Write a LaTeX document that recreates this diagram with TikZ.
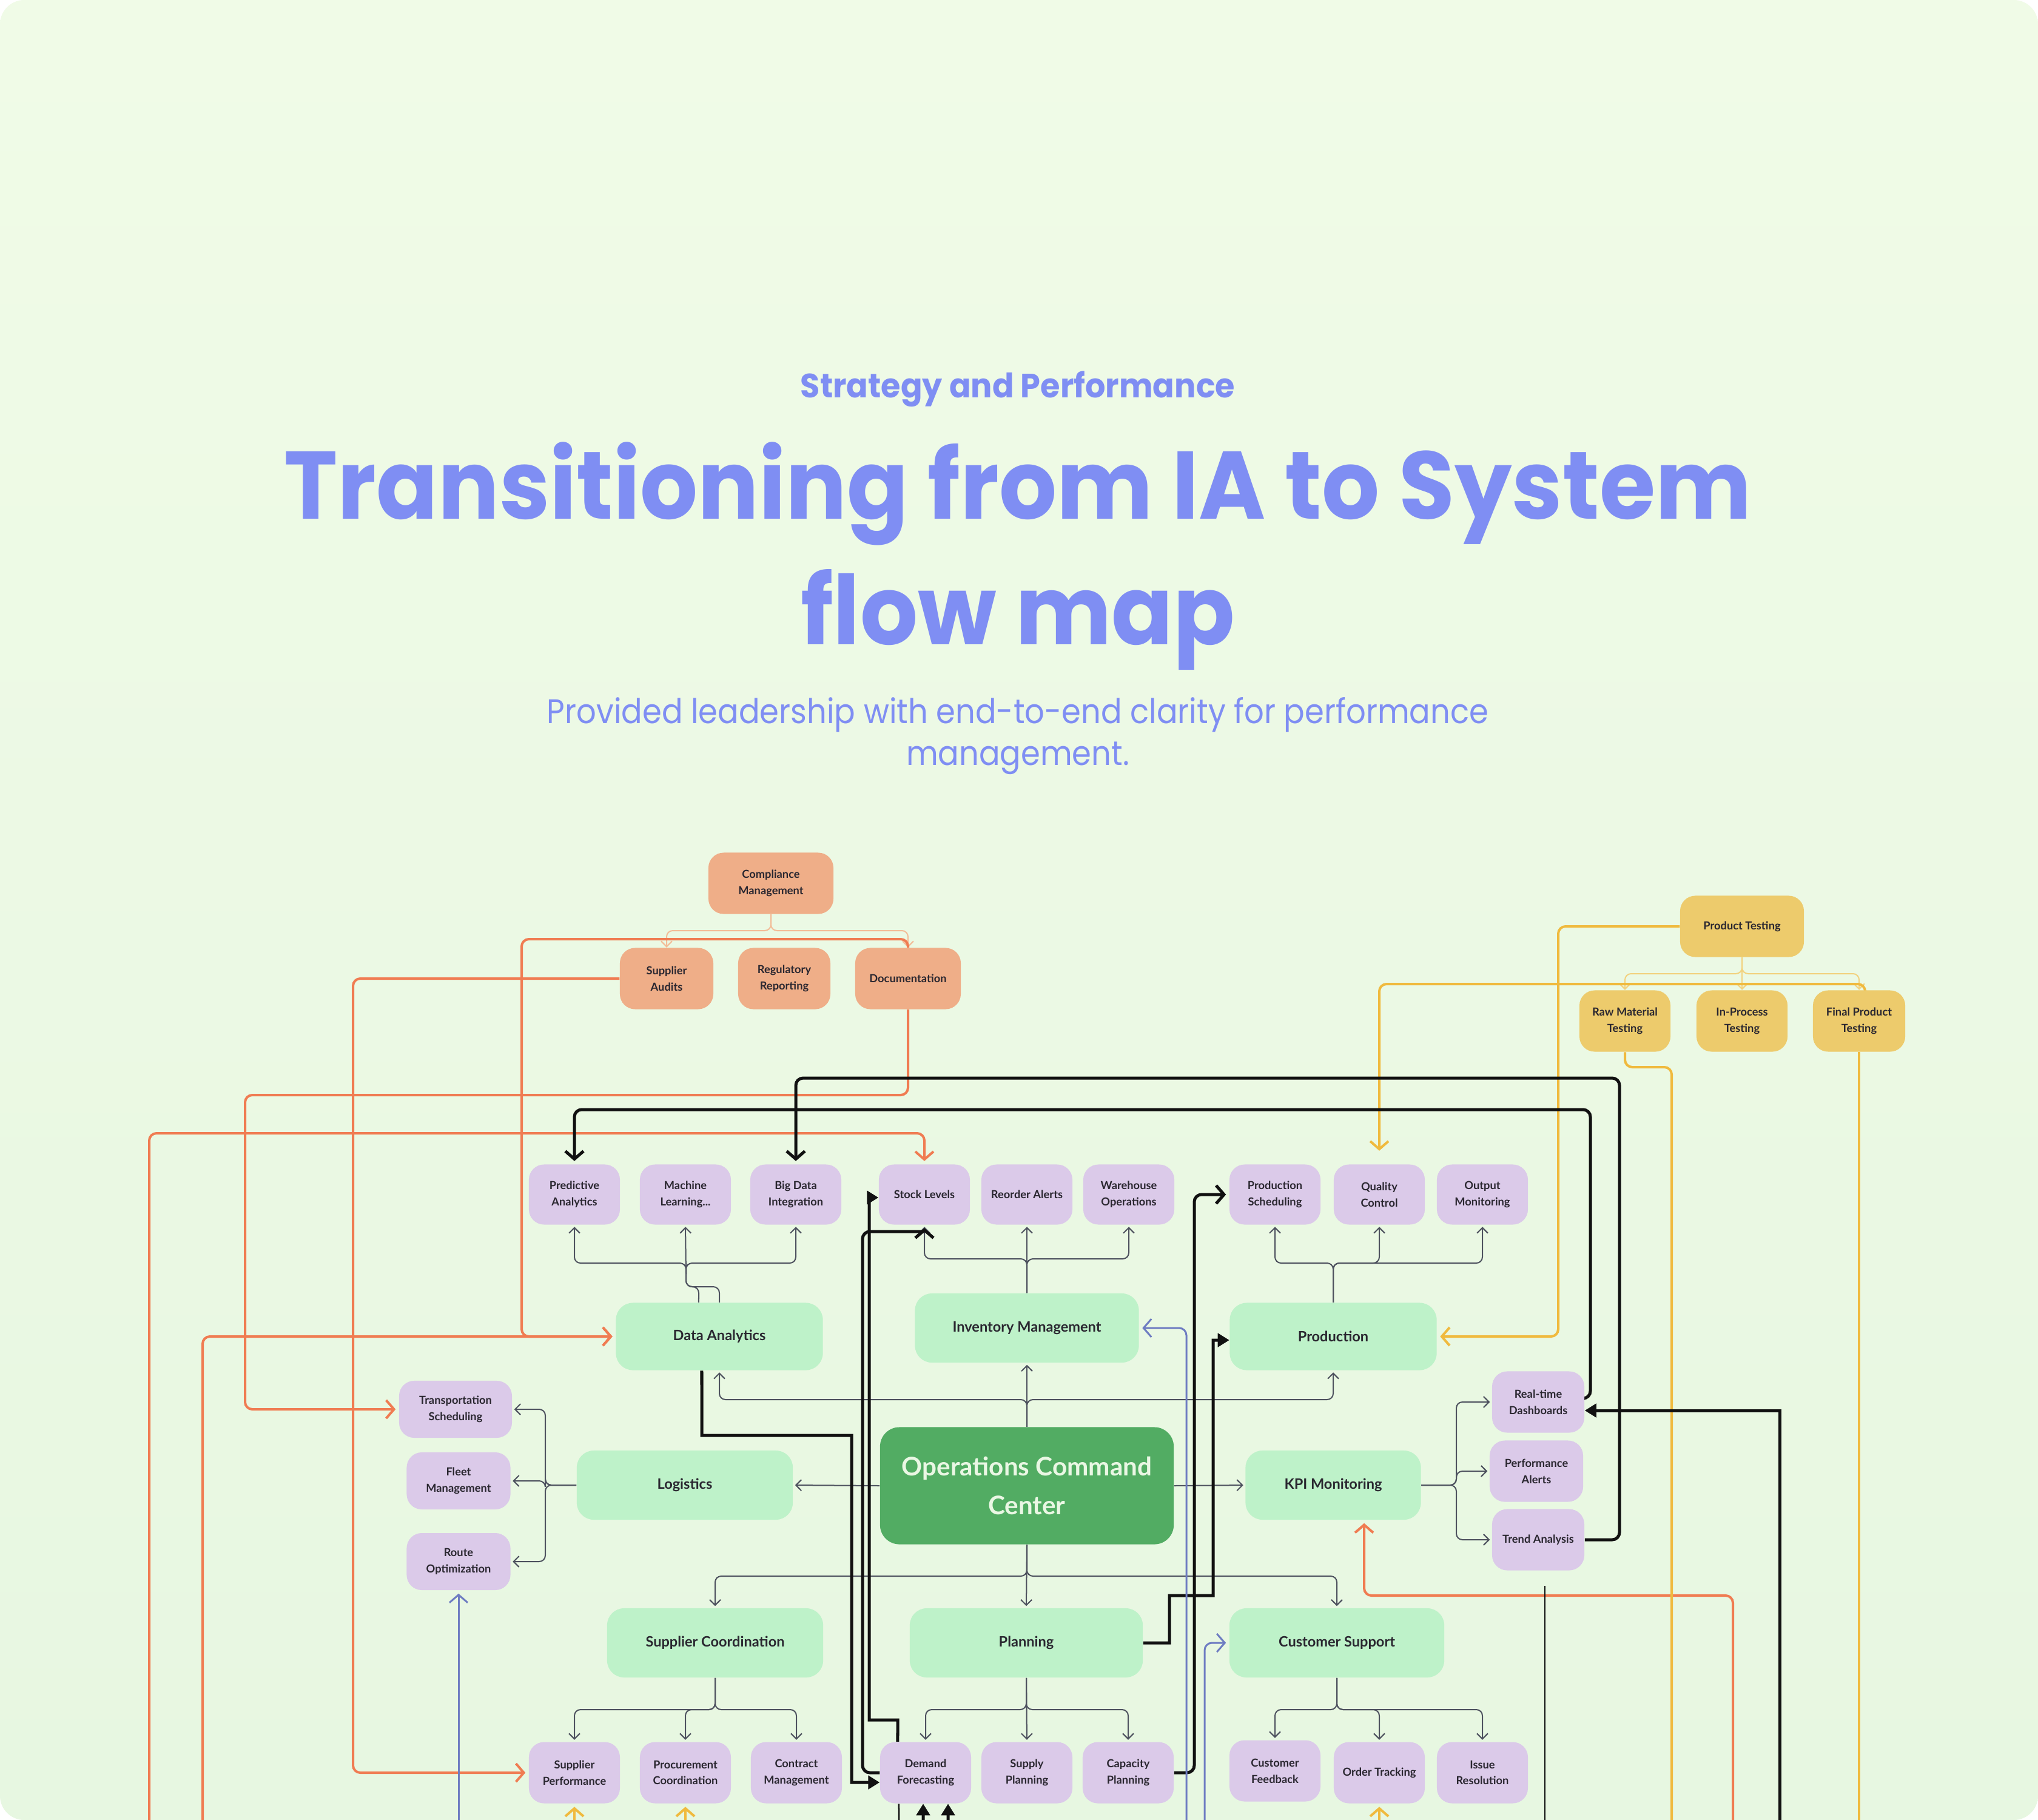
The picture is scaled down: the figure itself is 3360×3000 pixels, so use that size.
\documentclass[tikz,border=0pt]{standalone}
\usepackage{fontspec}
\usetikzlibrary{arrows.meta}
\newfontfamily\titlefont[FakeStretch=0.945]{Poppins}
\newfontfamily\subfont[FakeStretch=0.91]{Poppins}
\newfontfamily\nodefont{Lato}
\definecolor{titleblue}{HTML}{7F8EF3}
\definecolor{nodetext}{HTML}{2A2730}
\definecolor{purp}{HTML}{DBCAE9}
\definecolor{lgreen}{HTML}{BEF2C9}
\definecolor{dgreen}{HTML}{52AC63}
\definecolor{occtext}{HTML}{EAF7E4}
\definecolor{orn}{HTML}{EFAE88}
\definecolor{ornline}{HTML}{F07C52}
\definecolor{ornlight}{HTML}{F3BC97}
\definecolor{yel}{HTML}{EDCB6C}
\definecolor{yelline}{HTML}{F0BA3E}
\definecolor{yellight}{HTML}{F2D27E}
\definecolor{glinec}{HTML}{4D515E}
\definecolor{blk}{HTML}{111111}
\definecolor{bluel}{HTML}{6E7CC2}
\definecolor{bgtop}{HTML}{F0FBE7}
\definecolor{bgbot}{HTML}{E7F7E1}
\pgfdeclarelayer{back}
\pgfdeclarelayer{lines}
\pgfsetlayers{back,lines,main}
\tikzset{
  box/.style={rounded corners=0.25cm, inner sep=0pt, align=center, text=nodetext,
    font=\nodefont\bfseries\fontsize{5.2}{7.6}\selectfont},
  pbox/.style={box, fill=purp, minimum width=1.5cm, minimum height=0.99cm},
  obox/.style={box, fill=orn, minimum height=1.01cm},
  ybox/.style={box, fill=yel, minimum height=1.01cm},
  gbox/.style={box, fill=lgreen, minimum height=1.13cm, rounded corners=0.28cm,
    font=\nodefont\bfseries\fontsize{6.7}{8}\selectfont},
  gline/.style={draw=glinec, line width=0.02cm, rounded corners=0.1cm,
    -{Straight Barb[length=0.09cm,width=0.18cm]}, shorten >=0.03cm},
  gplain/.style={draw=glinec, line width=0.02cm, rounded corners=0.1cm},
  otree/.style={draw=ornlight, line width=0.02cm, rounded corners=0.1cm,
    -{Straight Barb[length=0.09cm,width=0.18cm]}},
  ytree/.style={draw=yellight, line width=0.02cm, rounded corners=0.1cm,
    -{Straight Barb[length=0.09cm,width=0.18cm]}},
  oline/.style={draw=ornline, line width=0.04cm, rounded corners=0.12cm,
    -{Straight Barb[length=0.13cm,width=0.3cm]}, shorten >=0.05cm},
  yline/.style={draw=yelline, line width=0.04cm, rounded corners=0.12cm,
    -{Straight Barb[length=0.13cm,width=0.3cm]}, shorten >=0.05cm},
  ylplain/.style={draw=yelline, line width=0.04cm, rounded corners=0.12cm},
  bopen/.style={draw=blk, line width=0.05cm, rounded corners=0.12cm,
    -{Straight Barb[length=0.13cm,width=0.3cm]}, shorten >=0.05cm},
  bfill/.style={draw=blk, line width=0.05cm,
    -{Triangle[length=0.19cm,width=0.22cm]}},
  bline/.style={draw=bluel, line width=0.03cm, rounded corners=0.12cm,
    -{Straight Barb[length=0.13cm,width=0.3cm]}, shorten >=0.05cm},
}
\begin{document}
\begin{tikzpicture}[x=0.01cm,y=-0.01cm]
\useasboundingbox (0,0) rectangle (3360,3000);
\begin{pgfonlayer}{back}
\fill[white] (0,0) rectangle (3360,3000);
\shade[top color=bgtop, bottom color=bgbot, rounded corners=0.4cm] (0,0) rectangle (3360,3000);
\end{pgfonlayer}

% titles
\node[anchor=base, inner sep=0, text=titleblue, font=\titlefont\bfseries\fontsize{15.8}{16}\selectfont] (kicker) at (1678,655) {Strategy and Performance};
\node[anchor=base, inner sep=0, text=titleblue, font=\titlefont\bfseries\fontsize{45}{45}\selectfont] (t1) at (1678,855) {Transitioning from IA to System};
\node[anchor=base, inner sep=0, text=titleblue, font=\titlefont\bfseries\fontsize{45}{45}\selectfont] (t2) at (1678,1062) {flow map};
\node[anchor=base, inner sep=0, text=titleblue, font=\subfont\fontsize{16}{16}\selectfont] (s1) at (1678,1192) {Provided leadership with end-to-end clarity for performance};
\node[anchor=base, inner sep=0, text=titleblue, font=\subfont\fontsize{16}{16}\selectfont] (s2) at (1678,1261) {management.};

% compliance
\node[obox, minimum width=2.06cm] (cm) at (1271,1456) {Compliance\\Management};
\node[obox, minimum width=1.54cm] (sa) at (1099,1613) {Supplier\\Audits};
\node[obox, minimum width=1.52cm] (rr) at (1293,1613) {Regulatory\\Reporting};
\node[obox, minimum width=1.74cm] (doc) at (1497,1613) {Documentation};
% product testing
\node[ybox, minimum width=2.04cm] (pt) at (2872,1527) {Product Testing};
\node[ybox, minimum width=1.5cm] (rmt) at (2679,1683) {Raw Material\\Testing};
\node[ybox, minimum width=1.5cm] (ipt) at (2872,1683) {In-Process\\Testing};
\node[ybox, minimum width=1.52cm] (fpt) at (3065,1683) {Final Product\\Testing};

% purple row 1
\node[pbox] (pa) at (947,1969) {Predictive\\Analytics};
\node[pbox] (ml) at (1130,1969) {Machine\\Learning...};
\node[pbox] (bdi) at (1312,1969) {Big Data\\Integration};
\node[pbox] (sl) at (1524,1969) {Stock Levels};
\node[pbox] (ra) at (1693,1969) {Reorder Alerts};
\node[pbox] (wo) at (1861,1969) {Warehouse\\Operations};
\node[pbox] (ps) at (2102,1969) {Production\\Scheduling};
\node[pbox] (qc) at (2274,1969) {Quality\\Control};
\node[pbox] (om) at (2444,1969) {Output\\Monitoring};

% green row 1
\node[gbox, minimum width=3.41cm, minimum height=1.11cm] (da) at (1186,2203) {Data Analytics};
\node[gbox, minimum width=3.69cm, minimum height=1.14cm] (im) at (1693,2189) {Inventory Management};
\node[gbox, minimum width=3.41cm, minimum height=1.11cm] (prod) at (2198,2203) {Production};

% left column
\node[pbox, minimum width=1.86cm, minimum height=0.94cm] (ts) at (751,2323) {Transportation\\Scheduling};
\node[pbox, minimum width=1.71cm, minimum height=0.94cm] (fm) at (756,2441) {Fleet\\Management};
\node[pbox, minimum width=1.71cm, minimum height=0.94cm] (ro) at (756,2574) {Route\\Optimization};

% middle row
\node[gbox, minimum width=3.56cm, minimum height=1.14cm] (log) at (1129,2448) {Logistics};
\node[box, fill=dgreen, minimum width=4.84cm, minimum height=1.93cm, rounded corners=0.32cm, text=occtext,
  font=\nodefont\bfseries\fontsize{12}{18}\selectfont] (occ) at (1693,2449) {Operations Command\\Center};
\node[gbox, minimum width=2.89cm, minimum height=1.14cm] (kpi) at (2198,2448) {KPI Monitoring};

% right column
\node[pbox, minimum width=1.52cm, minimum height=1.01cm] (rtd) at (2536,2311) {Real-time\\Dashboards};
\node[pbox, minimum width=1.54cm, minimum height=1.01cm] (palert) at (2533,2425) {Performance\\Alerts};
\node[pbox, minimum width=1.52cm, minimum height=1.01cm] (ta) at (2536,2538) {Trend Analysis};

% lower green row
\node[gbox, minimum width=3.56cm, minimum height=1.14cm] (sc) at (1179,2708) {Supplier Coordination};
\node[gbox, minimum width=3.84cm, minimum height=1.14cm] (plan) at (1692,2708) {Planning};
\node[gbox, minimum width=3.54cm, minimum height=1.14cm] (cs) at (2204,2708) {Customer Support};

% bottom row
\node[pbox, minimum height=1.01cm] (sp) at (947,2922) {Supplier\\Performance};
\node[pbox, minimum height=1.01cm] (pc) at (1130,2922) {Procurement\\Coordination};
\node[pbox, minimum height=1.01cm] (cmg) at (1313,2922) {Contract\\Management};
\node[pbox, minimum height=1.01cm] (df) at (1526,2922) {Demand\\Forecasting};
\node[pbox, minimum height=1.01cm] (supp) at (1693,2922) {Supply\\Planning};
\node[pbox, minimum height=1.01cm] (cap) at (1860,2922) {Capacity\\Planning};
\node[pbox, minimum height=1.01cm] (cf) at (2102,2919) {Customer\\Feedback};
\node[pbox, minimum height=1.01cm] (ot) at (2274,2922) {Order Tracking};
\node[pbox, minimum height=1.01cm] (ir) at (2444,2922) {Issue\\Resolution};

% free ends at the bottom edge
\coordinate (o2s) at (334,3000);
\coordinate (o5s) at (246,3000);
\coordinate (o6s) at (2857,3000);
\coordinate (y3e) at (2756,3000);
\coordinate (y4e) at (3065,3000);
\coordinate (y5s) at (947,3000);
\coordinate (y6s) at (1130,3000);
\coordinate (y7s) at (2274,3000);
\coordinate (b3s) at (2934,3000);
\coordinate (b4a) at (2547,2614);
\coordinate (b4b) at (2547,3000);
\coordinate (b10s) at (1522,3000);
\coordinate (b11s) at (1563,3000);
\coordinate (b12e) at (1482,3000);
\coordinate (bl1s) at (756,3000);
\coordinate (bl2s) at (1956,3000);
\coordinate (bl3s) at (1986,3000);

\begin{pgfonlayer}{lines}
% trees
\draw[otree] (cm.south) -- (1271,1534) -| (sa.north);
\draw[otree] (cm.south) -- (1271,1534) -| (doc.north);
\draw[ytree] (pt.south) -- (2872,1605) -| (rmt.north);
\draw[ytree] (pt.south) -- (ipt.north);
\draw[ytree] (pt.south) -- (2872,1605) -| (fpt.north);

\draw[gplain] (da.north) -- (1186,2121) -| (1131,2082);
\draw[gplain] ([xshift=-0.34cm]da.north) -- (1152,2121) -| (1131,2082);
\draw[gline] (1131,2100) -- (1131,2082) -| (pa.south);
\draw[gline] (1131,2100) -- (ml.south);
\draw[gline] (1131,2100) -- (1131,2082) -| (bdi.south);

\draw[gline] (im.north) -- (1693,2075) -| (sl.south);
\draw[gline] (im.north) -- (ra.south);
\draw[gline] (im.north) -- (1693,2075) -| (wo.south);

\draw[gline] (prod.north) -- (2198,2082) -| (ps.south);
\draw[gline] (prod.north) -- (2198,2082) -| (qc.south);
\draw[gline] (prod.north) -- (2198,2082) -| (om.south);

\draw[gline] (occ.north) -- (im.south);
\draw[gline] (occ.north) -- (1693,2307) -| (da.south);
\draw[gline] (occ.north) -- (1693,2307) -| (prod.south);
\draw[gline] (occ.west) -- (log.east);
\draw[gline] (occ.east) -- (kpi.west);
\draw[gline] (occ.south) -- (1693,2598) -| (sc.north);
\draw[gline] (occ.south) -- (plan.north);
\draw[gline] (occ.south) -- (1693,2598) -| (cs.north);

\draw[gline] (log.west) -- (899,2448) |- (ts.east);
\draw[gline] (log.west) -- (899,2448) |- (fm.east);
\draw[gline] (log.west) -- (899,2448) |- (ro.east);

\draw[gline] (kpi.east) -- (2401,2448) |- (rtd.west);
\draw[gline] (kpi.east) -- (2401,2448) |- (palert.west);
\draw[gline] (kpi.east) -- (2401,2448) |- (ta.west);

\draw[gline] (sc.south) -- (1179,2818) -| (sp.north);
\draw[gline] (sc.south) -- (1179,2818) -| (pc.north);
\draw[gline] (sc.south) -- (1179,2818) -| (cmg.north);
\draw[gline] (plan.south) -- (1692,2818) -| (df.north);
\draw[gline] (plan.south) -- (supp.north);
\draw[gline] (plan.south) -- (1692,2818) -| (cap.north);
\draw[gline] (cs.south) -- (2204,2818) -| (cf.north);
\draw[gline] (cs.south) -- (2204,2818) -| (ot.north);
\draw[gline] (cs.south) -- (2204,2818) -| (ir.north);

% orange
\draw[oline] (doc.north) |- (860,1548) |- (da.west);
\draw[oline] (o2s) |- (da.west);
\draw[oline] (sa.west) -| (582,2922) -- (sp.west);
\draw[oline] (doc.south) |- (404,1805) |- (ts.west);
\draw[oline] (o5s) |- (1524,1868) -- (sl.north);
\draw[oline] (o6s) |- (2249,2630) -- ([xshift=0.51cm]kpi.south);

% yellow
\draw[yline] (pt.west) -| (2569,2203) -- (prod.east);
\draw[yline, shorten >=0.22cm] ([xshift=0.1cm]fpt.north) |- (2274,1622) -- (qc.north);
\draw[ylplain] (rmt.south) |- (2756,1759) -- (y3e);
\draw[ylplain] (fpt.south) -- (y4e);
\draw[yline] (y5s) -- (sp.south);
\draw[yline] (y6s) -- (pc.south);
\draw[yline] (y7s) -- (ot.south);

% black
\draw[bopen] (ta.east) -| (2670,1777) -| (bdi.north);
\draw[bopen] ([yshift=0.06cm]rtd.east) -| (2622,1829) -| (pa.north);
\draw[bfill] (b3s) |- ([yshift=-0.14cm]rtd.east);
\draw[draw=blk, line width=0.025cm] (b4a) -- (b4b);
\draw[bfill] ([xshift=-0.29cm]da.south) -- (1157,2366) -- (1404,2366) -- (1404,2938) -- ([yshift=-0.16cm]df.west);
\draw[bfill] ([xshift=-0.46cm]df.north) -- (1480,2835) -- (1433,2835) -- (1433,1974) -- ([yshift=-0.05cm]sl.west);
\draw[bopen] (df.west) [rounded corners=0.12cm] -| (1422,2030) [sharp corners] -| (sl.south);
\draw[bopen] (cap.east) -| (1969,1969) -- (ps.west);
\draw[bfill] (plan.east) -- (1928,2708) -- (1928,2630) -- (2000,2630) -- (2000,2209) -- ([yshift=-0.06cm]prod.west);
\draw[bfill] (b10s) -- ([xshift=-0.04cm]df.south);
\draw[bfill] (b11s) -- ([xshift=0.37cm]df.south);
\draw[draw=blk, line width=0.025cm] ([xshift=-0.44cm]df.south) -- (b12e);

% blue
\draw[bline] (bl1s) -- (ro.south);
\draw[bline] (bl2s) |- (im.east);
\draw[bline] (bl3s) |- (cs.west);
\end{pgfonlayer}
\end{tikzpicture}
\end{document}
